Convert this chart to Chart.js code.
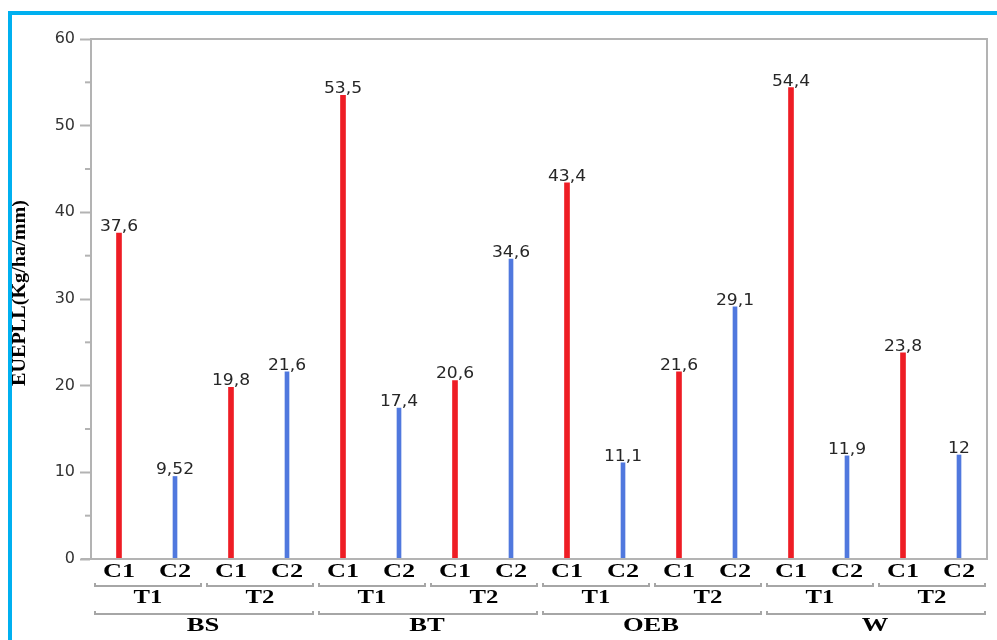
<!DOCTYPE html>
<html>
<head>
<meta charset="utf-8">
<title>EUEPLL</title>
<script src="https://cdn.jsdelivr.net/npm/chart.js@4.4.1/dist/chart.umd.min.js"></script>
<style>
  html, body { margin: 0; padding: 0; background: #ffffff; }
  #wrap { position: relative; width: 997px; height: 640px; overflow: hidden; }
  #frame {
    position: absolute; left: 8px; top: 11px; right: 0; bottom: 0;
    border-top: 4px solid #00b0f0; border-left: 4px solid #00b0f0;
    pointer-events: none;
  }
</style>
</head>
<body>
<div id="wrap">
  <canvas id="myChart" width="997" height="640"></canvas>
  <div id="frame"></div>
</div>
<script>
let groups = ["BS", "BT", "OEB", "W"];
let treatments = ["T1", "T2"];
let cuts = ["C1", "C2"];
// one value per group/treatment pair, in order BS-T1, BS-T2, BT-T1 ...
let c1Values = [37.6, 19.8, 53.5, 20.6, 43.4, 21.6, 54.4, 23.8];
let c2Values = [9.52, 21.6, 17.4, 34.6, 11.1, 29.1, 11.9, 12];
let yTicks = [0, 10, 20, 30, 40, 50, 60];
let yTitle = "EUEPLL(Kg/ha/mm)";

let c1Color = "#ee1d25";
let c2Color = "#5078de";
let axisColor = "#b3b3b3";
let textColor = "#262626";
let serifBold = "bold 19px 'Liberation Serif', 'Times New Roman', serif";
let sansFont = "16px 'DejaVu Sans', Verdana, sans-serif";

// x軸ラベルとデータを組み立てる
let labels = [];
let c1Data = [];
let c2Data = [];
let pair = 0;
groups.forEach(() => {
  treatments.forEach(() => {
    cuts.forEach((c) => labels.push(c));
    c1Data.push(c1Values[pair], null);
    c2Data.push(null, c2Values[pair]);
    pair++;
  });
});

// 横に引き伸ばした文字を描く
function wideText(ctx, text, x, y, sx) {
  ctx.save();
  ctx.translate(x, y);
  ctx.scale(sx, 1);
  ctx.fillText(text, 0, 0);
  ctx.restore();
}

function fmt(v) {
  return String(v).replace(".", ",");
}

// 括弧線（両端が少し上がる）
function bracket(ctx, x1, x2, y) {
  ctx.beginPath();
  ctx.moveTo(x1, y - 3);
  ctx.lineTo(x1, y);
  ctx.lineTo(x2, y);
  ctx.lineTo(x2, y - 3);
  ctx.stroke();
}

let decorPlugin = {
  id: "decor",
  afterDraw(chart) {
    const ctx = chart.ctx;
    const area = chart.chartArea;
    const x = chart.scales.x;
    const y = chart.scales.y;
    const half = (x.getPixelForValue(1) - x.getPixelForValue(0)) / 2;

    ctx.save();
    // 枠線（上・右・下）
    ctx.strokeStyle = axisColor;
    ctx.lineWidth = 2;
    ctx.beginPath();
    ctx.moveTo(area.left, area.top);
    ctx.lineTo(area.right, area.top);
    ctx.lineTo(area.right, area.bottom);
    ctx.lineTo(area.left - 10, area.bottom);
    ctx.stroke();

    // 補助目盛り
    for (let v = 5; v < 60; v += 10) {
      const py = y.getPixelForValue(v);
      ctx.beginPath();
      ctx.moveTo(area.left - 6, py);
      ctx.lineTo(area.left, py);
      ctx.stroke();
    }

    // 値ラベル
    ctx.fillStyle = textColor;
    ctx.font = sansFont;
    ctx.textAlign = "center";
    ctx.textBaseline = "alphabetic";
    chart.data.datasets.forEach((ds, di) => {
      chart.getDatasetMeta(di).data.forEach((bar, i) => {
        if (ds.data[i] == null) return;
        wideText(ctx, fmt(ds.data[i]), bar.x, bar.y - 2, 1.07);
      });
    });

    // C1/C2 ラベル
    ctx.fillStyle = "#000000";
    ctx.font = serifBold;
    labels.forEach((lab, i) => {
      wideText(ctx, lab, x.getPixelForValue(i), 577, 1.38);
    });

    // T1/T2 と処理区ラベル
    ctx.strokeStyle = "#a6a6a6";
    ctx.lineWidth = 2;
    let idx = 0;
    groups.forEach((g, gi) => {
      const gStart = idx;
      treatments.forEach((t) => {
        const l = x.getPixelForValue(idx) - half;
        const r = x.getPixelForValue(idx + cuts.length - 1) + half;
        bracket(ctx, l + 4, r - 2, 586);
        wideText(ctx, t, (l + r) / 2 + 1, 603, 1.3);
        idx += cuts.length;
      });
      const gl = x.getPixelForValue(gStart) - half;
      const gr = x.getPixelForValue(idx - 1) + half;
      bracket(ctx, gl + 4, gr - 2, 614);
      wideText(ctx, g, (gl + gr) / 2, 631, 1.4);
    });

    // y軸タイトル
    ctx.font = "bold 18px 'Liberation Serif', 'Times New Roman', serif";
    ctx.translate(25, 293);
    ctx.rotate(-Math.PI / 2);
    ctx.scale(1.12, 1);
    ctx.textAlign = "center";
    ctx.fillText(yTitle, 0, 0);
    ctx.restore();
  },
};

let config = {
  type: "bar",
  data: {
    labels: labels,
    datasets: [
      {
        label: "C1",
        data: c1Data,
        backgroundColor: c1Color,
        barThickness: 5,
        grouped: false,
      },
      {
        label: "C2",
        data: c2Data,
        backgroundColor: c2Color,
        barThickness: 4,
        grouped: false,
      },
    ],
  },
  options: {
    responsive: false,
    animation: false,
    layout: {
      padding: { top: 39, right: 10, left: 0, bottom: 0 },
    },
    plugins: {
      legend: { display: false },
      tooltip: { enabled: false },
    },
    scales: {
      x: {
        offset: true,
        grid: { display: false, drawTicks: false },
        border: { display: false },
        ticks: { display: false },
        afterFit: (scale) => {
          scale.height = 81;
        },
      },
      y: {
        min: yTicks[0],
        max: yTicks[yTicks.length - 1],
        afterBuildTicks: (scale) => {
          scale.ticks = yTicks.map((v) => ({ value: v }));
        },
        afterFit: (scale) => {
          scale.width = 91;
        },
        grid: {
          drawOnChartArea: false,
          tickLength: 11,
          tickColor: axisColor,
          tickWidth: 2,
        },
        border: { color: axisColor, width: 2 },
        ticks: {
          color: "#333333",
          padding: 5,
          font: { family: "'DejaVu Sans', Verdana, sans-serif", size: 16 },
        },
      },
    },
  },
  plugins: [decorPlugin],
};

window.onload = function () {
  let ctx = document.getElementById("myChart").getContext("2d");
  window.myBar = new Chart(ctx, config);
};
</script>
</body>
</html>
